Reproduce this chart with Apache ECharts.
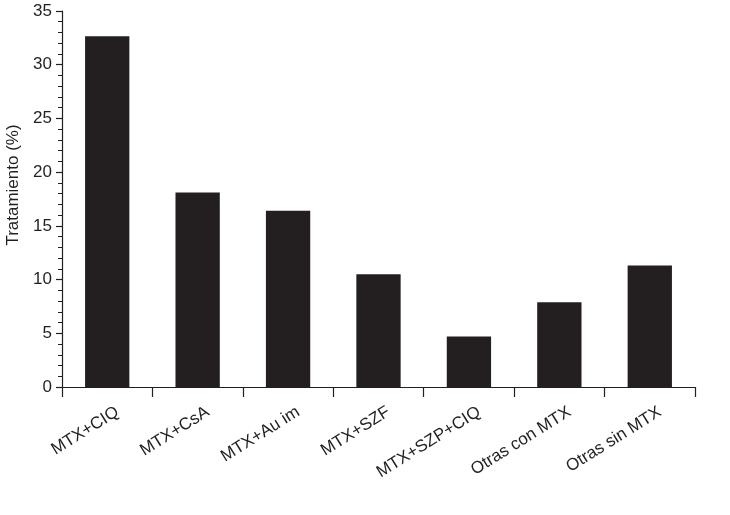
<!DOCTYPE html>
<html>
<head>
<meta charset="utf-8">
<script src="https://cdn.jsdelivr.net/npm/echarts@6/dist/echarts.min.js"></script>
<style>
  html, body { margin: 0; padding: 0; background: #fff; }
  #main { width: 730px; height: 515px; }
</style>
</head>
<body>
<div id="main"></div>
<script>
// datos
var categorias = ["MTX+CIQ", "MTX+CsA", "MTX+Au im", "MTX+SZF", "MTX+SZP+CIQ", "Otras con MTX", "Otras sin MTX"]
var tratamiento = [32.65, 18.1, 16.4, 10.5, 4.7, 7.9, 11.3]

var chartDom = document.getElementById("main")
var myChart = echarts.init(chartDom)
var ink = "#231f20"
var option = {
  animation: false,
  grid: {
    left: 62,
    right: 35,
    top: 11,
    bottom: 128,
    outerBoundsMode: "none"
  },
  xAxis: {
    type: "category",
    data: categorias,
    axisLine: { lineStyle: { color: ink, width: 1.2 } },
    axisTick: { show: true, length: 10, lineStyle: { color: ink, width: 1.2 } },
    axisLabel: {
      rotate: 32,
      margin: 30,
      interval: 0,
      padding: [0, -12, 0, 0],
      color: ink,
      fontFamily: "Liberation Sans",
      fontSize: 17
    }
  },
  yAxis: {
    type: "value",
    min: 0,
    max: 35,
    interval: 5,
    name: "Tratamiento (%)",
    nameLocation: "middle",
    nameGap: 37,
    nameTextStyle: {
      color: ink,
      fontFamily: "Liberation Sans",
      fontSize: 17,
      padding: [0, 0, 0, 28]
    },
    axisLine: { show: true, lineStyle: { color: ink, width: 1.2 } },
    axisTick: { show: true, length: 6, lineStyle: { color: ink, width: 1.2 } },
    minorTick: { show: true, splitNumber: 5, length: 4, lineStyle: { color: ink, width: 1 } },
    splitLine: { show: false },
    axisLabel: {
      margin: 10,
      color: ink,
      fontFamily: "Liberation Sans",
      fontSize: 17
    }
  },
  series: [
    {
      type: "bar",
      data: tratamiento,
      barWidth: "49%",
      itemStyle: { color: ink }
    }
  ]
}
myChart.setOption(option)
</script>
</body>
</html>
